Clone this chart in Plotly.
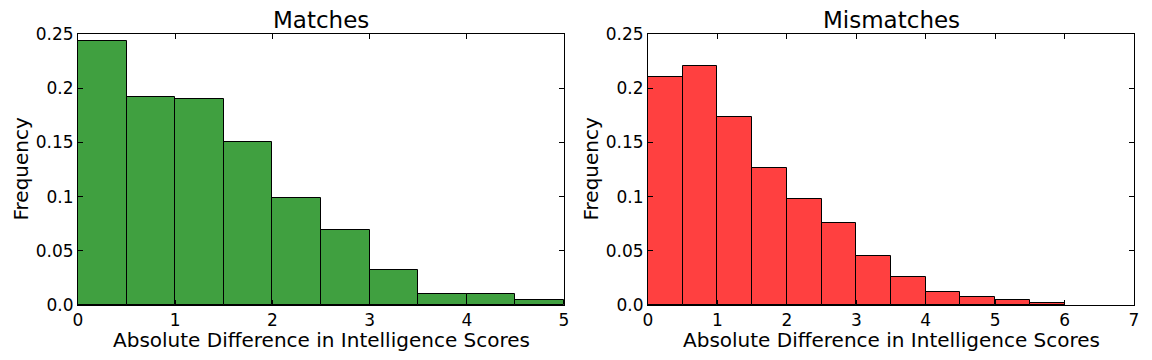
import plotly.graph_objects as go

# Data
match_bins = [0.0, 0.5, 1.0, 1.5, 2.0, 2.5, 3.0, 3.5, 4.0, 4.5]
match_freq = [0.2437, 0.1917, 0.1898, 0.1501, 0.0985, 0.0690, 0.0321, 0.0099, 0.0099, 0.0044]
mismatch_bins = [0.0, 0.5, 1.0, 1.5, 2.0, 2.5, 3.0, 3.5, 4.0, 4.5, 5.0, 5.5]
mismatch_freq = [0.2106, 0.2202, 0.1731, 0.1261, 0.0975, 0.0753, 0.0449, 0.0255, 0.0117, 0.0074, 0.0046, 0.0015]
bin_width = 0.5
y_ticks = [0.0, 0.05, 0.1, 0.15, 0.2, 0.25]
y_ticklabels = ["0.0", "0.05", "0.1", "0.15", "0.2", "0.25"]
titles = ["Matches", "Mismatches"]
xlabel = "Absolute Difference in Intelligence Scores"
ylabel = "Frequency"

# page body has an 8px margin; work in page pixel coordinates and subtract it
OFF = 8
W, H = 1152 - OFF, 360 - OFF
FONT = "DejaVu Sans"
L = 78 - OFF
T = 34 - OFF
B = H - (305 - OFF)
R = W - (1134 - OFF)
PW, PH = W - L - R, H - T - B


def px_x(p):
    return (p - OFF - L) / PW


def px_y(p):
    return (H - B - (p - OFF)) / PH


fig = go.Figure()
fig.add_trace(go.Bar(x=match_bins, y=match_freq, width=bin_width, offset=0,
                     marker=dict(color="rgba(0,128,0,0.75)", line=dict(color="black", width=1)),
                     xaxis="x", yaxis="y", showlegend=False))
fig.add_trace(go.Bar(x=mismatch_bins, y=mismatch_freq, width=bin_width, offset=0,
                     marker=dict(color="rgba(255,0,0,0.75)", line=dict(color="black", width=1)),
                     xaxis="x2", yaxis="y2", showlegend=False))

xd1 = [px_x(78), px_x(564)]
xd2 = [px_x(648), px_x(1134)]
yd = [0, 1]

axis_common = dict(showline=True, linecolor="black", linewidth=1, mirror="allticks",
                   ticks="inside", ticklen=5, tickcolor="black", showgrid=False, zeroline=False,
                   automargin=False,
                   tickfont=dict(family=FONT, size=17, color="black"))

fig.update_layout(
    width=W, height=H, margin=dict(l=L, r=R, t=T, b=B, autoexpand=False),
    plot_bgcolor="white", paper_bgcolor="white", bargap=0,
    font=dict(family=FONT, color="black"),
    xaxis=dict(domain=xd1, range=[0, 5], tickvals=[0, 1, 2, 3, 4, 5], anchor="y", **axis_common),
    yaxis=dict(domain=yd, range=[0, 0.25], tickvals=y_ticks, ticktext=y_ticklabels, anchor="x", **axis_common),
    xaxis2=dict(domain=xd2, range=[0, 7], tickvals=[0, 1, 2, 3, 4, 5, 6, 7], anchor="y2", **axis_common),
    yaxis2=dict(domain=yd, range=[0, 0.25], tickvals=y_ticks, ticktext=y_ticklabels, anchor="x2", **axis_common),
)

anns = []
for xd, t, ylx in [(xd1, titles[0], 20), (xd2, titles[1], 590)]:
    cx = (xd[0] + xd[1]) / 2
    anns.append(dict(text=t, x=cx, y=px_y(20), xref="paper", yref="paper", showarrow=False,
                     xanchor="center", yanchor="middle", font=dict(family=FONT, size=23, color="black")))
    anns.append(dict(text=xlabel, x=cx, y=px_y(340), xref="paper", yref="paper", showarrow=False,
                     xanchor="center", yanchor="middle", font=dict(family=FONT, size=20, color="black")))
    anns.append(dict(text=ylabel, x=px_x(ylx), y=0.5, xref="paper", yref="paper",
                     showarrow=False, textangle=-90, xanchor="center", yanchor="middle",
                     font=dict(family=FONT, size=20, color="black")))
fig.update_layout(annotations=anns)

fig.write_html("out.html")
